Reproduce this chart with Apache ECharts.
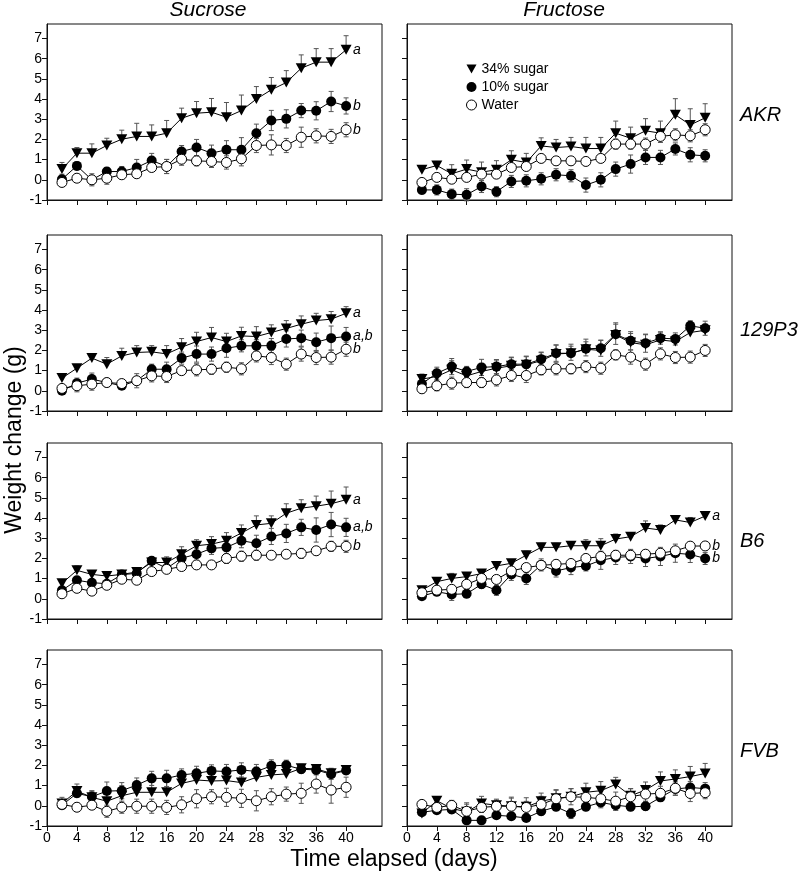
<!DOCTYPE html>
<html><head><meta charset="utf-8">
<script src="https://cdn.jsdelivr.net/npm/echarts@6/dist/echarts.min.js"></script>
<style>html,body{margin:0;padding:0;background:#fff}#c{width:800px;height:877px}</style>
</head><body><div id="c"></div>
<script>
const days = [2,4,6,8,10,12,14,16,18,20,22,24,26,28,30,32,34,36,38,40];
const xTicks = [0,4,8,12,16,20,24,28,32,36,40];
const yTicks = [-1,0,1,2,3,4,5,6,7];
const seriesNames = ['34% sugar','10% sugar','Water'];
const colTitles = ['Sucrose','Fructose'];
const rowTitles = ['AKR','129P3','B6','FVB'];

// AKR sucrose
const AKR_S_34  = [0.53,1.32,1.32,1.7,2.01,2.15,2.15,2.31,3.05,3.3,3.35,3.1,3.43,4.0,4.46,4.82,5.53,5.83,5.83,6.44];
const AKR_S_34e = [0.33,0.28,0.46,0.36,0.45,0.65,0.57,0.63,0.5,0.58,0.68,0.73,0.77,0.62,0.61,0.59,0.66,0.67,0.67,0.7];
const AKR_S_10  = [0.03,0.69,0.0,0.41,0.41,0.61,0.96,0.66,1.4,1.6,1.32,1.49,1.49,2.31,2.94,3.02,3.43,3.42,3.88,3.66];
const AKR_S_10e = [0.25,0.2,0.2,0.2,0.25,0.4,0.35,0.35,0.3,0.4,0.4,0.45,0.6,0.45,0.5,0.45,0.35,0.45,0.5,0.4];
const AKR_S_W   = [-0.13,0.08,0.0,0.08,0.25,0.3,0.61,0.66,1.02,0.94,0.91,0.86,1.04,1.7,1.73,1.7,2.11,2.18,2.15,2.48];
const AKR_S_We  = [0.2,0.15,0.3,0.3,0.2,0.2,0.2,0.35,0.3,0.25,0.3,0.33,0.35,0.35,0.5,0.35,0.5,0.35,0.35,0.35];
// AKR fructose
const AKR_F_34  = [0.5,0.71,0.3,0.53,0.38,0.5,0.99,0.86,1.68,1.6,1.65,1.55,1.55,2.31,2.06,2.43,2.31,3.22,2.72,3.07];
const AKR_F_34e = [0.12,0.2,0.45,0.45,0.5,0.45,0.45,0.45,0.4,0.4,0.45,0.55,0.55,0.6,0.55,0.6,0.6,0.8,0.8,0.7];
const AKR_F_10  = [-0.5,-0.5,-0.71,-0.74,-0.33,-0.59,-0.08,-0.05,0.05,0.25,0.2,-0.26,0.0,0.53,0.78,1.11,1.11,1.53,1.24,1.19];
const AKR_F_10e = [0.2,0.25,0.25,0.3,0.3,0.25,0.3,0.3,0.3,0.3,0.3,0.35,0.35,0.35,0.45,0.35,0.35,0.3,0.35,0.3];
const AKR_F_W   = [-0.13,0.12,0.03,0.12,0.28,0.28,0.61,0.66,1.06,0.94,0.94,0.91,1.06,1.77,1.77,1.77,2.15,2.23,2.18,2.48];
const AKR_F_We  = [0.15,0.2,0.2,0.2,0.2,0.2,0.2,0.2,0.2,0.2,0.2,0.2,0.2,0.25,0.25,0.3,0.3,0.3,0.3,0.3];
// 129P3 sucrose
const P_S_34  = [0.63,1.12,1.62,1.32,1.73,1.9,1.93,1.83,2.16,2.44,2.64,2.44,2.72,2.69,2.89,3.09,3.3,3.48,3.55,3.84];
const P_S_34e = [0.12,0.1,0.21,0.33,0.38,0.34,0.31,0.41,0.43,0.46,0.5,0.41,0.43,0.49,0.38,0.39,0.41,0.36,0.38,0.33];
const P_S_10  = [0.0,0.38,0.58,0.41,0.25,0.5,1.07,1.07,1.62,1.82,1.82,2.11,2.23,2.23,2.24,2.57,2.61,2.41,2.61,2.69];
const P_S_10e = [0.1,0.25,0.3,0.2,0.15,0.35,0.25,0.35,0.3,0.4,0.35,0.45,0.3,0.3,0.35,0.4,0.4,0.45,0.6,0.45];
const P_S_W   = [0.12,0.25,0.33,0.41,0.36,0.5,0.74,0.71,1.0,1.04,1.07,1.17,1.09,1.73,1.65,1.32,1.82,1.65,1.67,2.06];
const P_S_We  = [0.12,0.3,0.3,0.2,0.2,0.2,0.3,0.3,0.2,0.3,0.25,0.25,0.3,0.3,0.35,0.3,0.35,0.35,0.35,0.35];
// 129P3 fructose
const P_F_34  = [0.58,0.71,1.04,0.74,0.96,1.12,1.24,1.29,1.49,1.83,1.86,2.06,2.0,2.77,2.39,2.28,2.52,2.44,2.89,3.0];
const P_F_34e = [0.25,0.3,0.45,0.3,0.4,0.4,0.4,0.4,0.4,0.45,0.45,0.5,0.5,0.6,0.45,0.5,0.4,0.3,0.35,0.3];
const P_F_10  = [0.35,0.87,1.2,0.96,1.16,1.2,1.32,1.32,1.57,1.86,1.86,2.08,2.11,2.8,2.48,2.36,2.61,2.57,3.22,3.1];
const P_F_10e = [0.3,0.3,0.4,0.25,0.4,0.35,0.35,0.4,0.35,0.4,0.35,0.35,0.4,0.5,0.45,0.45,0.3,0.3,0.25,0.35];
const P_F_W   = [0.1,0.25,0.38,0.41,0.41,0.54,0.76,0.76,1.04,1.09,1.09,1.2,1.12,1.78,1.67,1.32,1.83,1.65,1.67,2.0];
const P_F_We  = [0.2,0.25,0.3,0.25,0.25,0.3,0.3,0.35,0.25,0.3,0.25,0.3,0.3,0.25,0.35,0.3,0.3,0.3,0.3,0.3];
// B6 sucrose
const B_S_34  = [0.77,1.41,1.21,1.13,1.21,1.33,1.8,1.8,2.21,2.63,2.71,2.88,3.26,3.66,3.74,4.24,4.49,4.59,4.71,4.91];
const B_S_34e = [0.1,0.22,0.15,0.17,0.19,0.12,0.1,0.28,0.37,0.3,0.37,0.4,0.4,0.45,0.37,0.47,0.42,0.5,0.63,0.63];
const B_S_10  = [0.42,0.92,0.8,0.75,1.2,1.26,1.88,1.51,2.01,2.21,2.5,2.55,2.88,2.75,3.09,3.24,3.54,3.41,3.68,3.54];
const B_S_10e = [0.1,0.15,0.12,0.1,0.12,0.15,0.1,0.2,0.25,0.3,0.3,0.35,0.35,0.4,0.4,0.45,0.4,0.6,0.6,0.45];
const B_S_W   = [0.25,0.52,0.38,0.67,0.97,0.92,1.35,1.46,1.6,1.68,1.68,2.0,2.11,2.16,2.16,2.21,2.25,2.38,2.6,2.6];
const B_S_We  = [0.1,0.1,0.1,0.12,0.1,0.1,0.15,0.15,0.15,0.2,0.15,0.25,0.25,0.25,0.2,0.2,0.25,0.2,0.25,0.3];
// B6 fructose
const B_F_34  = [0.43,0.85,1.01,1.1,1.25,1.63,1.76,2.16,2.55,2.55,2.63,2.63,2.63,2.96,3.08,3.51,3.41,3.91,3.78,4.1];
const B_F_34e = [0.1,0.12,0.25,0.15,0.15,0.2,0.15,0.2,0.2,0.2,0.2,0.3,0.35,0.25,0.1,0.35,0.25,0.1,0.25,0.15];
const B_F_10  = [0.13,0.35,0.22,0.25,0.72,0.42,1.21,1.01,1.68,1.38,1.55,1.63,1.91,2.05,2.1,2.0,2.1,2.26,2.2,2.0];
const B_F_10e = [0.12,0.2,0.3,0.2,0.2,0.25,0.3,0.3,0.3,0.3,0.35,0.25,0.45,0.35,0.35,0.4,0.45,0.45,0.4,0.3];
const B_F_W   = [0.3,0.43,0.47,0.72,1.01,0.96,1.38,1.55,1.66,1.71,1.75,2.0,2.1,2.16,2.16,2.21,2.26,2.38,2.61,2.62];
const B_F_We  = [0.1,0.2,0.2,0.2,0.15,0.2,0.2,0.2,0.2,0.2,0.2,0.2,0.2,0.2,0.25,0.2,0.2,0.2,0.2,0.2];
// FVB sucrose
const F_S_34  = [0.12,0.73,0.42,0.23,0.5,0.67,0.67,0.67,1.11,1.28,1.23,1.25,1.15,1.41,1.53,1.58,1.86,1.83,1.61,1.78];
const F_S_34e = [0.3,0.35,0.3,0.4,0.5,0.3,0.5,0.5,0.4,0.4,0.5,0.5,0.6,0.5,0.45,0.5,0.2,0.15,0.25,0.2];
const F_S_10  = [0.03,0.62,0.45,0.73,0.75,1.03,1.36,1.36,1.53,1.61,1.73,1.7,1.78,1.7,1.98,2.01,1.81,1.78,1.56,1.75];
const F_S_10e = [0.15,0.2,0.3,0.45,0.4,0.35,0.35,0.4,0.3,0.35,0.3,0.35,0.35,0.35,0.3,0.25,0.2,0.2,0.25,0.2];
const F_S_W   = [0.07,-0.07,0.03,-0.27,-0.07,-0.02,-0.02,-0.08,0.05,0.35,0.45,0.42,0.37,0.25,0.45,0.58,0.62,1.08,0.78,0.92];
const F_S_We  = [0.15,0.2,0.2,0.3,0.3,0.35,0.35,0.35,0.4,0.45,0.35,0.45,0.45,0.5,0.4,0.35,0.5,0.45,0.65,0.5];
// FVB fructose
const F_F_34  = [-0.38,0.25,-0.13,-0.3,0.12,0.03,-0.02,-0.05,0.23,0.37,0.45,0.67,0.75,1.06,0.5,0.78,1.23,1.33,1.45,1.6];
const F_F_34e = [0.2,0.15,0.3,0.45,0.35,0.3,0.4,0.45,0.4,0.4,0.4,0.45,0.45,0.35,0.35,0.4,0.45,0.45,0.5,0.5];
const F_F_10  = [-0.32,-0.22,-0.18,-0.72,-0.72,-0.47,-0.52,-0.6,-0.27,-0.05,-0.38,-0.05,0.17,0.03,-0.05,-0.02,0.42,0.83,0.91,0.85];
const F_F_10e = [0.15,0.15,0.2,0.15,0.15,0.15,0.15,0.15,0.2,0.2,0.25,0.2,0.2,0.25,0.2,0.2,0.2,0.3,0.3,0.3];
const F_F_W   = [0.07,-0.08,0.02,-0.27,-0.08,-0.02,-0.02,-0.08,0.07,0.35,0.45,0.42,0.35,0.23,0.45,0.58,0.62,0.87,0.61,0.65];
const F_F_We  = [0.15,0.25,0.25,0.35,0.25,0.3,0.45,0.3,0.4,0.45,0.4,0.45,0.45,0.45,0.4,0.35,0.35,0.35,0.4,0.3];

const panels = [
  {row:0,col:0,v:[AKR_S_34,AKR_S_10,AKR_S_W],e:[AKR_S_34e,AKR_S_10e,AKR_S_We],lt:['a','b','b']},
  {row:0,col:1,v:[AKR_F_34,AKR_F_10,AKR_F_W],e:[AKR_F_34e,AKR_F_10e,AKR_F_We],lt:[null,null,null]},
  {row:1,col:0,v:[P_S_34,P_S_10,P_S_W],e:[P_S_34e,P_S_10e,P_S_We],lt:['a','a,b','b']},
  {row:1,col:1,v:[P_F_34,P_F_10,P_F_W],e:[P_F_34e,P_F_10e,P_F_We],lt:[null,null,null]},
  {row:2,col:0,v:[B_S_34,B_S_10,B_S_W],e:[B_S_34e,B_S_10e,B_S_We],lt:['a','a,b','b']},
  {row:2,col:1,v:[B_F_34,B_F_10,B_F_W],e:[B_F_34e,B_F_10e,B_F_We],lt:['a','b','b']},
  {row:3,col:0,v:[F_S_34,F_S_10,F_S_W],e:[F_S_34e,F_S_10e,F_S_We],lt:[null,null,null]},
  {row:3,col:1,v:[F_F_34,F_F_10,F_F_W],e:[F_F_34e,F_F_10e,F_F_We],lt:[null,null,null]}
];

const FONT = 'Liberation Sans, Arial, sans-serif';
const gridLefts = [47, 407], gridWidths = [335, 325], xMax = [44.8, 43.6];
const gridTops = [24, 235, 443, 650], gridH = 176, yMax = 7.72;

const grid = [], xAxis = [], yAxis = [], series = [];
panels.forEach((p, i) => {
  grid.push({left: gridLefts[p.col], top: gridTops[p.row], width: gridWidths[p.col], height: gridH,
    show: true, borderColor: '#111', borderWidth: 1, backgroundColor: 'transparent', outerBoundsMode: 'none', containLabel: false});
  xAxis.push({gridIndex: i, type: 'value', min: 0, max: xMax[p.col], interval: 4,
    axisLine: {show: true, onZero: false, lineStyle: {color: '#111', width: 1}},
    axisTick: {show: true, inside: false, length: 5, customValues: xTicks, lineStyle: {color: '#111'}},
    axisLabel: {show: p.row === 3, customValues: xTicks, margin: 5, fontSize: 14, color: '#000', fontFamily: FONT},
    splitLine: {show: false}});
  yAxis.push({gridIndex: i, type: 'value', min: -1, max: yMax, interval: 1,
    axisLine: {show: true, onZero: false, lineStyle: {color: '#111', width: 1}},
    axisTick: {show: true, inside: false, length: 5, customValues: yTicks, lineStyle: {color: '#111'}},
    axisLabel: {show: p.col === 0, customValues: yTicks, margin: 5, fontSize: 14, color: '#000', fontFamily: FONT},
    splitLine: {show: false}});
  for (let s = 0; s < 3; s++) {
    const vals = p.v[s], errs = p.e[s];
    const upOnly = s === 0;
    series.push({
      type: 'custom', xAxisIndex: i, yAxisIndex: i, z: 1, silent: true, animation: false,
      data: days.map((d, k) => [d, upOnly ? vals[k] : vals[k] - errs[k], vals[k] + errs[k], upOnly ? 0 : 1]),
      encode: {x: 0, y: [1, 2]},
      renderItem: function (params, api) {
        const x = api.value(0), lo = api.value(1), hi = api.value(2), both = api.value(3);
        const pt = api.coord([x, hi]), pb = api.coord([x, lo]);
        const st = {stroke: '#555', lineWidth: 1};
        const ch = [
          {type: 'line', shape: {x1: pt[0], y1: pt[1], x2: pb[0], y2: pb[1]}, style: st},
          {type: 'line', shape: {x1: pt[0] - 2.5, y1: pt[1], x2: pt[0] + 2.5, y2: pt[1]}, style: st}
        ];
        if (both) ch.push({type: 'line', shape: {x1: pb[0] - 2.5, y1: pb[1], x2: pb[0] + 2.5, y2: pb[1]}, style: st});
        return {type: 'group', children: ch};
      }
    });
    const lt = p.lt[s];
    series.push({
      type: 'line', name: seriesNames[s], xAxisIndex: i, yAxisIndex: i, z: 3 + s, silent: true, animation: false,
      data: days.map((d, k) => [d, vals[k]]),
      symbol: s === 0 ? 'triangle' : 'circle', symbolRotate: s === 0 ? 180 : 0,
      symbolSize: s === 0 ? [11, 10] : 10, showAllSymbol: true,
      lineStyle: {color: '#000', width: 1},
      itemStyle: s === 2 ? {color: '#fff', borderColor: '#000', borderWidth: 1} : {color: '#000', borderColor: '#000', borderWidth: 0},
      emphasis: {disabled: true},
      endLabel: lt ? {show: true, formatter: lt, distance: 7, fontSize: 14, fontStyle: 'italic', color: '#000', fontFamily: FONT} : {show: false}
    });
  }
});

const graphic = [];
const colCenters = [208, 564];
colTitles.forEach((t, c) => graphic.push({type: 'text', x: colCenters[c], y: 10,
  style: {text: t, fontSize: 21, fontStyle: 'italic', fontFamily: FONT, fill: '#000', align: 'center', verticalAlign: 'middle'}}));
const rowCenters = [115, 330, 541, 751];
rowTitles.forEach((t, r) => graphic.push({type: 'text', x: 740, y: rowCenters[r],
  style: {text: t, fontSize: 20, fontStyle: 'italic', fontFamily: FONT, fill: '#000', align: 'left', verticalAlign: 'middle'}}));
graphic.push({type: 'text', x: 394, y: 860, style: {text: 'Time elapsed (days)', fontSize: 23, fontFamily: FONT, fill: '#000', align: 'center', verticalAlign: 'middle'}});
graphic.push({type: 'text', x: 15, y: 440, rotation: Math.PI / 2,
  style: {text: 'Weight change (g)', fontSize: 23, fontFamily: FONT, fill: '#000', align: 'center', verticalAlign: 'middle'}});

const chart = echarts.init(document.getElementById('c'), null, {renderer: 'canvas'});
chart.setOption({
  backgroundColor: '#fff',
  animation: false,
  grid, xAxis, yAxis, series, graphic,
  legend: {orient: 'vertical', left: 461, top: 57, itemWidth: 10, itemHeight: 10, itemGap: 4, selectedMode: false,
    textStyle: {fontSize: 14, color: '#000', fontFamily: FONT},
    data: [
      {name: '34% sugar', icon: 'path://M0,0L10,0L5,9Z', itemStyle: {color: '#000', borderWidth: 0}},
      {name: '10% sugar', icon: 'circle', itemStyle: {color: '#000', borderWidth: 0}},
      {name: 'Water', icon: 'circle', itemStyle: {color: '#fff', borderColor: '#000', borderWidth: 1}}
    ]}
});
</script></body></html>
